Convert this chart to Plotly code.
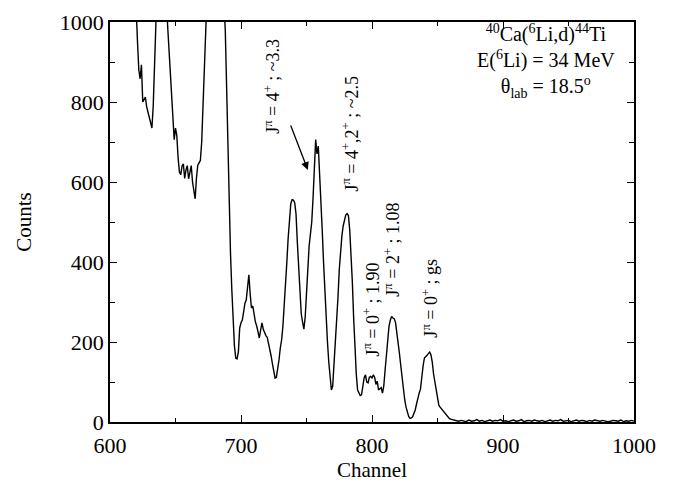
import plotly.graph_objects as go

# ---- data ----
channel = [618, 619, 620, 621, 622, 623, 624, 625, 626, 627, 628, 629, 630, 631, 632, 633, 634, 635, 636, 637, 638, 640, 642,
           643, 644, 645, 646, 647, 648, 649, 650, 651, 652, 653, 654, 655, 656, 657, 658, 659, 660, 661, 662, 663, 664, 665,
           666, 667, 668, 669, 670, 671, 672, 673, 674, 675, 676, 680, 684,
           686, 687, 688, 689, 690, 691, 692, 693, 694, 695, 696, 697, 698, 699, 700, 701, 702, 703, 704, 705, 706, 707, 708,
           709, 710, 711, 712, 713, 714, 715, 716, 717, 718, 719, 720, 721, 722, 723, 724, 725, 726, 727, 728, 729, 730, 731,
           732, 733, 734, 735, 736, 737, 738, 739, 740, 741, 742, 743, 744, 745, 746, 747, 748, 749, 750, 751, 752, 753, 754,
           755, 756, 757, 758, 759, 760, 761, 762, 763, 764, 765, 766, 767, 768, 769, 770, 771, 772, 773, 774, 775, 776, 777,
           778, 779, 780, 781, 782, 783, 784, 785, 786, 787, 788, 789, 790, 791, 792, 793, 794, 795, 796, 797, 798, 799, 800,
           801, 802, 803, 804, 805, 806, 807, 808, 809, 810, 811, 812, 813, 814, 815, 816, 817, 818, 819, 820, 821, 822, 823,
           824, 825, 826, 827, 828, 829, 830, 831, 832, 833, 834, 835, 836, 837, 838, 839, 840, 841, 842, 843, 844, 845, 846,
           847, 848, 849, 850, 851, 852, 853, 854, 855, 856, 857, 858, 859, 860, 861, 862, 863, 864,
           866, 868, 870, 872, 874, 876, 878, 880, 882, 884, 886, 888, 890, 892, 894, 896, 898, 900, 902, 904, 906, 908,
           910, 912, 914, 916, 918, 920, 922, 924, 926, 928, 930, 932, 934, 936, 938, 940, 942, 944, 946, 948, 950, 952,
           954, 956, 958, 960, 962, 964, 966, 968, 970, 972, 974, 976, 978, 980, 982, 984, 986, 988, 990, 992, 994, 996,
           998, 1000]

counts = [1250, 1120, 1030, 950, 880, 858, 893, 800, 805, 812, 788, 775, 765, 745, 735, 790, 860, 930, 990, 1060, 1200, 1500, 1300,
          1060, 990, 930, 901, 820, 760, 706, 735, 716, 660, 625, 618, 640, 645, 609, 630, 641, 608, 625, 641, 600, 575, 558,
          610, 642, 648, 654, 700, 770, 850, 930, 990, 1040, 1150, 1600, 1400,
          1100, 1040, 980, 820, 680, 530, 420, 330, 250, 190, 160, 158, 175, 235, 248, 255, 275, 297, 305, 335, 368, 320, 285,
          290, 262, 250, 240, 226, 210, 230, 248, 232, 222, 216, 212, 198, 183, 165, 145, 125, 110, 112, 130, 155, 185, 205,
          240, 285, 340, 400, 460, 510, 545, 556, 555, 548, 520, 450, 380, 310, 270, 250, 232, 262, 320, 390, 440, 470, 500,
          560, 625, 706, 670, 690, 620, 560, 480, 400, 320, 260, 200, 150, 105, 80, 90, 140, 200, 260, 310, 380, 430, 465,
          490, 508, 518, 521, 516, 480, 420, 350, 260, 183, 120, 80, 70, 66, 68, 95, 110, 118, 100, 98, 112, 114, 110,
          118, 112, 94, 102, 80, 84, 86, 72, 90, 130, 170, 200, 240, 255, 264, 260, 258, 248, 225, 200, 170, 140, 105,
          80, 55, 37, 22, 14, 9, 10, 13, 22, 30, 45, 62, 72, 82, 120, 140, 160, 165, 167, 171, 175, 168, 150,
          120, 100, 72, 58, 42, 37, 33, 29, 24, 20, 17, 12, 9, 7, 6, 5, 4, 3,
          2, 4, 3, 1, 5, 2, 3, 6, 2, 4, 1, 3, 5, 2, 4, 3, 6, 2, 3, 1, 4, 5,
          2, 3, 6, 1, 3, 4, 2, 5, 3, 2, 4, 1, 3, 5, 2, 4, 3, 6, 2, 3, 4, 1,
          3, 5, 2, 4, 3, 1, 4, 2, 5, 3, 2, 4, 3, 1, 2, 4, 3, 2, 5, 1, 3, 2,
          4, 2]

x_ticks = [600, 700, 800, 900, 1000]
y_ticks = [0, 200, 400, 600, 800, 1000]

peak_labels = [
    ("J<sup>π</sup> = 4<sup>+</sup> ; ~3.3", 723.5, 840),
    ("J<sup>π</sup> = 4<sup>+</sup>,2<sup>+</sup> ; ~2.5", 783.5, 722),
    ("J<sup>π</sup> = 0<sup>+</sup> ; 1.90", 799.5, 282),
    ("J<sup>π</sup> = 2<sup>+</sup> ; 1.08", 815.0, 430),
    ("J<sup>π</sup> = 0<sup>+</sup> ; gs", 844.0, 310),
]

info_lines = [
    "<sup>40</sup>Ca(<sup>6</sup>Li,d)<sup>44</sup>Ti",
    "E(<sup>6</sup>Li) = 34 MeV",
    "θ<sub>lab</sub> = 18.5<sup>o</sup>",
]

SERIF = "Liberation Serif, Times New Roman, serif"

fig = go.Figure()
fig.add_trace(go.Scatter(x=channel, y=counts, mode="lines",
                         line=dict(color="black", width=1.4), showlegend=False))

axis_common = dict(showline=True, linecolor="black", linewidth=1.5, mirror="ticks",
                   ticks="inside", ticklen=7, tickwidth=1.2, tickcolor="black",
                   showgrid=False, zeroline=False, ticklabeloverflow="allow",
                   tickfont=dict(family=SERIF, size=22, color="black"))

fig.update_xaxes(range=[600, 1000], tickvals=x_ticks, ticklabelstandoff=3,
                 minor=dict(dtick=50, ticks="inside", ticklen=4, tickcolor="black", tickwidth=1),
                 title=dict(text="Channel", font=dict(family=SERIF, size=21, color="black"), standoff=0),
                 **axis_common)
fig.update_yaxes(range=[0, 1000], tickvals=y_ticks,
                 minor=dict(dtick=100, ticks="inside", ticklen=5, tickcolor="black", tickwidth=1),
                 title=dict(text="Counts", font=dict(family=SERIF, size=21, color="black"), standoff=22),
                 **axis_common)

for txt, xv, yv in peak_labels:
    fig.add_annotation(x=xv, y=yv, xref="x", yref="y", text=txt, textangle=-90,
                       xanchor="center", yanchor="middle",
                       showarrow=False, font=dict(family=SERIF, size=18, color="black"))

fig.add_annotation(x=751, y=630, xref="x", yref="y", ax=737.5, ay=745, axref="x", ayref="y",
                   text="", showarrow=True, arrowhead=2, arrowsize=1.2, arrowwidth=1.3, arrowcolor="black")

fig.add_annotation(x=0.833, y=0.903, xref="paper", yref="paper", text="<br>".join(info_lines),
                   showarrow=False, xanchor="center", yanchor="middle", align="center",
                   font=dict(family=SERIF, size=20, color="black"))

fig.update_layout(width=681, height=485, margin=dict(l=110, r=47, t=10, b=63),
                  plot_bgcolor="white", paper_bgcolor="white")

fig.write_html("out.html")
